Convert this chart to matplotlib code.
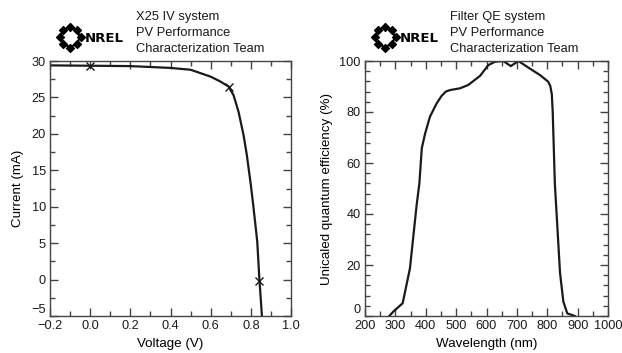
import numpy as np
import matplotlib.pyplot as plt
import matplotlib.transforms as mtransforms
from matplotlib.ticker import MultipleLocator

# IV curve
voltage = [-0.2, 0.0, 0.2, 0.4, 0.5, 0.6, 0.647, 0.689, 0.714, 0.739, 0.764, 0.78, 0.80,
           0.812, 0.832, 0.842, 0.855, 0.86]
current = [29.4, 29.35, 29.3, 29.05, 28.8, 27.85, 27.2, 26.5, 25.3, 23.0, 19.8, 17.1, 13.0,
           10.2, 5.2, 0.3, -4.9, -5.6]
mark_v = [0.0, 0.69, 0.842]
mark_i = [29.35, 26.5, -0.2]

# QE curve
wavelength = [280, 293, 324, 348, 370, 379, 387, 398, 414, 436, 452, 466, 480, 513, 540, 579, 606,
              628, 655, 680, 705, 743, 776, 803, 810, 815, 818, 821, 825, 842, 853, 866, 891]
qe = [0.0, 1.7, 5.0, 18.7, 43.5, 52.0, 65.8, 71.6, 78.2, 83.4, 86.3, 88.0, 88.6, 89.3, 90.6, 94.2, 98.4,
      99.7, 100.0, 98.0, 100.0, 97.0, 94.5, 91.9, 90.2, 87.0, 80.0, 68.0, 52.0, 17.0, 5.6, 1.0, 0.0]

plt.rcParams['font.family'] = ['Liberation Sans', 'DejaVu Sans']
plt.rcParams['font.size'] = 9.2

fig = plt.figure(figsize=(6.22, 3.53), dpi=100)
W, H = 622, 353

def box(x0, x1, y0, y1):
    return [x0 / W, 1 - y1 / H, (x1 - x0) / W, (y1 - y0) / H]

ax1 = fig.add_axes(box(50, 291, 61, 316))
ax2 = fig.add_axes(box(365, 608, 61, 316))

ink = '#1a1a1a'

ax1.plot(voltage, current, color=ink, lw=1.6)
ax1.plot(mark_v, mark_i, ls='none', marker='x', ms=6, mew=1.0, color=ink)
ax1.set_xlim(-0.2, 1.0)
ax1.set_ylim(-5, 30)
ax1.xaxis.set_major_locator(MultipleLocator(0.2))
ax1.xaxis.set_minor_locator(MultipleLocator(0.1))
ax1.yaxis.set_major_locator(MultipleLocator(5))
ax1.yaxis.set_minor_locator(MultipleLocator(2.5))
ax1.xaxis.set_major_formatter(plt.FuncFormatter(lambda v, p: f'{v:.1f}'.replace('-', '\u2212')))
ax1.set_xlabel('Voltage (V)', labelpad=4, fontsize=9.6)
ax1.set_ylabel('Current (mA)', labelpad=5, fontsize=9.6)

ax2.plot(wavelength, qe, color=ink, lw=1.6)
ax2.set_xlim(200, 1000)
ax2.set_ylim(0, 100)
ax2.xaxis.set_major_locator(MultipleLocator(100))
ax2.xaxis.set_minor_locator(MultipleLocator(50))
ax2.yaxis.set_major_locator(MultipleLocator(20))
ax2.yaxis.set_minor_locator(MultipleLocator(4))
ax2.set_xlabel('Wavelength (nm)', labelpad=4, fontsize=9.6)
ax2.set_ylabel('Unicaled quantum efficiency (%)', labelpad=5, fontsize=9.6)

for ax in (ax1, ax2):
    for s in ax.spines.values():
        s.set_color('#444444')
        s.set_linewidth(1.0)
    ax.tick_params(which='both', direction='in', top=True, right=True, color='#444444',
                   labelcolor=ink, labelsize=9.2, pad=3)
    ax.tick_params(which='major', length=6, width=1.0)
    ax.tick_params(which='minor', length=3.5, width=1.0)

# headers with NREL logo
titles = [['X25 IV system', 'PV Performance', 'Characterization Team'],
          ['Filter QE system', 'PV Performance', 'Characterization Team']]
logo_x = [70, 385]
text_x = [136, 450]
ang = np.linspace(0, 2 * np.pi, 8, endpoint=False)
for lx, tx, lines in zip(logo_x, text_x, titles):
    lax = fig.add_axes(box(lx - 15, lx + 15, 22, 52))
    lax.set_xlim(-1, 1)
    lax.set_ylim(-1, 1)
    lax.axis('off')
    circ = plt.Circle((0, 0), 0.62, fill=False, lw=1.5, color='black')
    lax.add_patch(circ)
    lax.scatter(0.7 * np.cos(ang), 0.7 * np.sin(ang), s=16, marker='D', color='black', zorder=3)
    fig.text(85 / W + (lx - 70) / W, 1 - 38 / H, 'NREL', fontsize=9.5, fontweight='heavy',
             va='center', ha='left', family='DejaVu Sans', color='black')
    for k, t in enumerate(lines):
        fig.text(tx / W, 1 - (17 + 16 * k) / H, t, fontsize=9.3, va='center', ha='left', color=ink)

# bottom y label sits a little above the x labels, as in the original
fig.canvas.draw()
for ax in (ax1, ax2):
    low = ax.get_ylim()[0]
    for tk in ax.yaxis.get_major_ticks():
        if abs(tk.get_loc() - low) < 1e-9:
            tk.label1.set_verticalalignment('bottom')

fig.savefig('out.png', dpi=100)
